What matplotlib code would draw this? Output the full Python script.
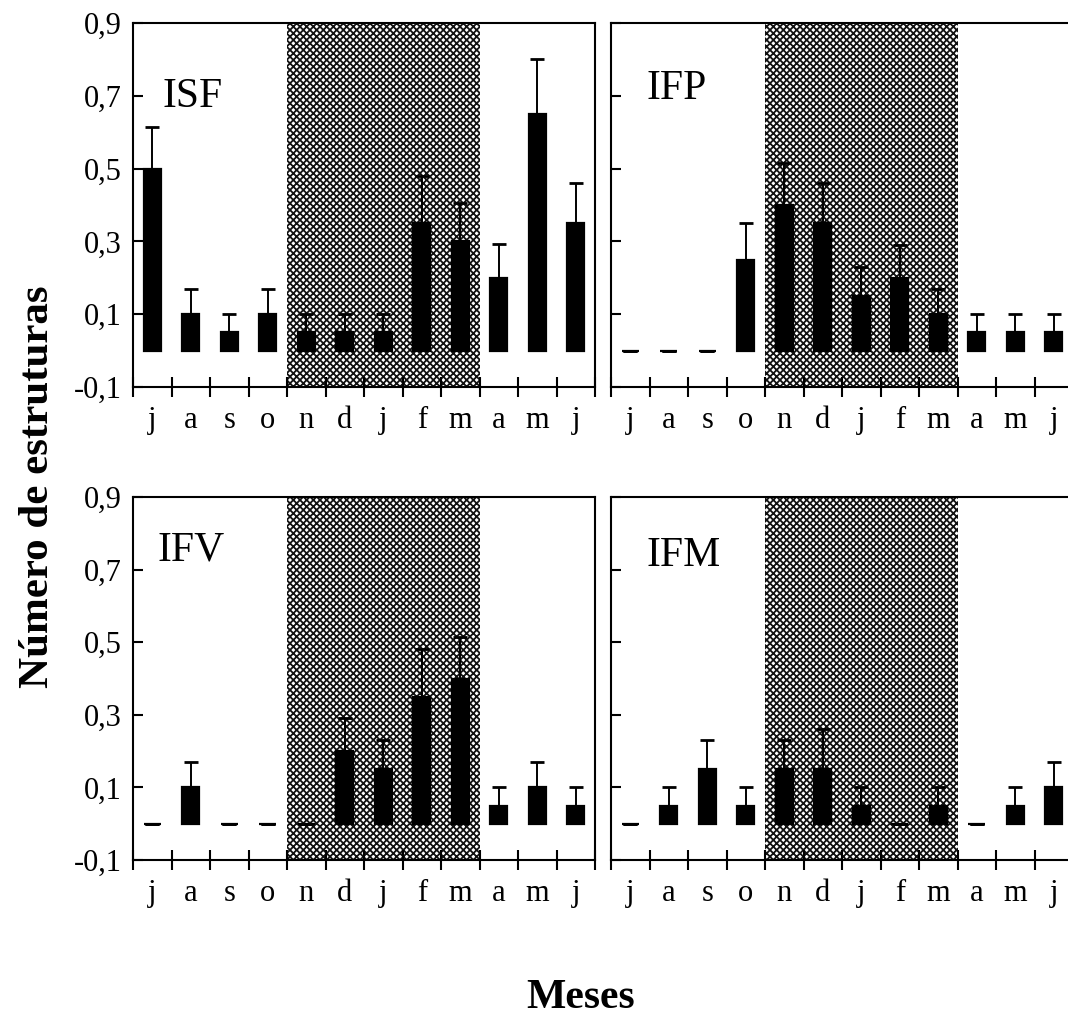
import numpy as np
import matplotlib
matplotlib.use('Agg')
import matplotlib.pyplot as plt

months = ['j', 'a', 's', 'o', 'n', 'd', 'j', 'f', 'm', 'a', 'm', 'j']
yticks = [-0.1, 0.1, 0.3, 0.5, 0.7, 0.9]
ytick_labels = ['-0,1', '0,1', '0,3', '0,5', '0,7', '0,9']

# mean and upper error (sd) for each index
isf = [0.50, 0.10, 0.05, 0.10, 0.05, 0.05, 0.05, 0.35, 0.30, 0.20, 0.65, 0.35]
isf_err = [0.114, 0.07, 0.05, 0.07, 0.05, 0.05, 0.05, 0.13, 0.105, 0.093, 0.15, 0.11]

ifp = [0.0, 0.0, 0.0, 0.25, 0.40, 0.35, 0.15, 0.20, 0.10, 0.05, 0.05, 0.05]
ifp_err = [0.0, 0.0, 0.0, 0.10, 0.115, 0.11, 0.08, 0.09, 0.07, 0.05, 0.05, 0.05]

ifv = [0.0, 0.10, 0.0, 0.0, 0.0, 0.20, 0.15, 0.35, 0.40, 0.05, 0.10, 0.05]
ifv_err = [0.0, 0.07, 0.0, 0.0, 0.0, 0.09, 0.08, 0.13, 0.115, 0.05, 0.07, 0.05]

ifm = [0.0, 0.05, 0.15, 0.05, 0.15, 0.15, 0.05, 0.0, 0.05, 0.0, 0.05, 0.10]
ifm_err = [0.0, 0.05, 0.08, 0.05, 0.08, 0.11, 0.05, 0.0, 0.05, 0.0, 0.05, 0.07]

panels = [('ISF', isf, isf_err), ('IFP', ifp, ifp_err),
          ('IFV', ifv, ifv_err), ('IFM', ifm, ifm_err)]

plt.rcParams['font.family'] = 'Liberation Serif'
plt.rcParams['hatch.linewidth'] = 1.3
plt.rcParams['hatch.color'] = '#111111'

W, H = 1068, 1016
fig = plt.figure(figsize=(W / 100, H / 100), dpi=100)

# axes boxes in pixels: left, top, right, bottom
boxes = [(133, 23, 595, 387), (611, 23, 1073, 387),
         (133, 497, 595, 860), (611, 497, 1073, 860)]
label_pos = [(0.063, 0.77), (0.076, 0.79), (0.054, 0.825), (0.076, 0.81)]

x = np.arange(len(months))
for k, (name, vals, errs) in enumerate(panels):
    l, t, r, b = boxes[k]
    ax = fig.add_axes([l / W, 1 - b / H, (r - l) / W, (b - t) / H])
    ax.axvspan(3.5, 8.5, ymin=0, ymax=1, facecolor='white', edgecolor='#111111',
               hatch='xxxxx', linewidth=0, zorder=0)
    ax.bar(x, vals, width=0.43, color='black', edgecolor='black', linewidth=1.6, zorder=2)
    ax.errorbar(x, vals, yerr=[np.zeros(len(vals)), errs], fmt='none', ecolor='black',
                elinewidth=1.4, capsize=5, capthick=2, zorder=3)
    ax.set_xlim(-0.5, 11.5)
    ax.set_ylim(-0.1, 0.9)
    ax.set_yticks(yticks)
    if k % 2 == 0:
        ax.set_yticklabels(ytick_labels, fontsize=22)
    else:
        ax.set_yticklabels([])
    ax.tick_params(axis='y', direction='in', length=7, width=1.5, pad=8)
    ax.set_xticks(np.arange(-0.5, 12, 1))
    ax.set_xticklabels([])
    ax.tick_params(axis='x', which='major', direction='inout', length=15, width=1.5)
    ax.set_xticks(x, minor=True)
    ax.set_xticklabels(months, minor=True, fontsize=22)
    ax.tick_params(axis='x', which='minor', length=0, pad=14)
    for s in ax.spines.values():
        s.set_linewidth(1.5)
        s.set_zorder(4)
    ax.text(label_pos[k][0], label_pos[k][1], name, transform=ax.transAxes,
            fontsize=30, ha='left', va='baseline')

fig.text(38 / W, 1 - 487 / H, 'Número de estruturas', rotation=90, fontsize=31,
         fontweight='bold', ha='center', va='center')
fig.text(581 / W, 1 - 1008 / H, 'Meses', fontsize=30, fontweight='bold',
         ha='center', va='baseline')

fig.savefig('out.png', dpi=100)
